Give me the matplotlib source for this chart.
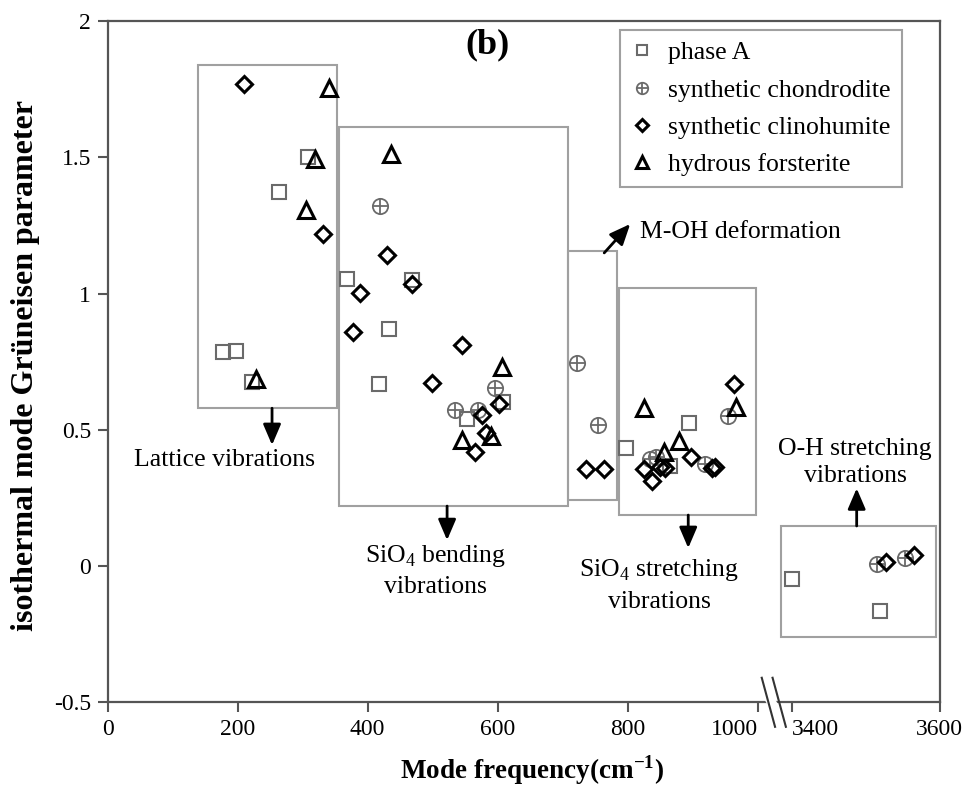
import numpy as np
import matplotlib
matplotlib.use("Agg")
import matplotlib.pyplot as plt
from matplotlib.patches import Rectangle, Polygon
from matplotlib.lines import Line2D

plt.rcParams['font.family'] = ['Liberation Serif', 'DejaVu Serif']
plt.rcParams['mathtext.fontset'] = 'custom'
plt.rcParams['mathtext.rm'] = 'Liberation Serif'
plt.rcParams['mathtext.bf'] = 'Liberation Serif:bold'
plt.rcParams['axes.unicode_minus'] = False

# ---- data (mode frequency, gamma) ----
phaseA_x = [177.8, 197.4, 222.5, 263.6, 308.7, 368.7, 467.9, 432.9, 417.1, 608.9,
            552.6, 797.8, 893.8, 865.6, 3400.1, 3518.9]
phaseA_y = [0.784, 0.789, 0.674, 1.374, 1.500, 1.052, 1.050, 0.869, 0.667, 0.603,
            0.538, 0.434, 0.524, 0.368, -0.049, -0.164]

chond_x = [419.6, 596.6, 535.0, 569.5, 722.0, 753.7, 833.7, 844.0, 919.5, 953.8,
           3515.1, 3553.4]
chond_y = [1.321, 0.654, 0.572, 0.572, 0.744, 0.517, 0.393, 0.400, 0.373, 0.550,
           0.007, 0.028]

clino_x = [209.7, 330.9, 429.9, 387.8, 467.9, 377.1, 544.9, 498.7, 602.8, 575.7,
           581.8, 565.4, 736.3, 764.4, 824.5, 849.1, 857.9, 837.4, 897.9, 929.8,
           934.9, 963.1, 3527.7, 3565.6]
clino_y = [1.768, 1.218, 1.141, 1.003, 1.035, 0.860, 0.811, 0.670, 0.595, 0.554,
           0.487, 0.420, 0.355, 0.355, 0.356, 0.364, 0.361, 0.313, 0.401, 0.358,
           0.362, 0.668, 0.016, 0.040]

forst_x = [340.6, 319.0, 305.2, 228.2, 435.6, 607.4, 589.5, 544.9, 824.5, 879.4,
           855.3, 967.2]
forst_y = [1.753, 1.492, 1.306, 0.685, 1.512, 0.729, 0.477, 0.462, 0.579, 0.459,
           0.420, 0.582]

x_ticks = [0, 200, 400, 600, 800, 1000, 3400, 3600]
x_tick_labels = ['0', '200', '400', '600', '800', '1000', '3400', '3600']
y_ticks = [-0.5, 0, 0.5, 1, 1.5, 2]
y_tick_labels = ['-0.5', '0', '0.5', '1', '1.5', '2']

# vibration regions (x0, x1, y0, y1)
regions = {
    'lattice': (139.3, 352.4, 0.579, 1.839),
    'bending': (356.4, 708.1, 0.220, 1.612),
    'mOH': (708.1, 783.5, 0.242, 1.156),
    'stretch': (786.0, 998.0, 0.187, 1.019),
    'OH': (3385.7, 3594.9, -0.259, 0.147),
}

# ---- broken x axis: 0..B1 then B2..3600 ----
B1, B2, K = 1025.0, 3376.0, 1.1386


def fwd(x):
    x = np.asarray(x, float)
    return np.where(x <= B1, x, B1 + np.clip(x - B2, 0, None) * K)


def inv(u):
    u = np.asarray(u, float)
    return np.where(u <= B1, u, B2 + (u - B1) / K)


fig = plt.figure(figsize=(9.7, 7.86), dpi=100)
ax = fig.add_axes([0.1111, 0.1065, 0.8575, 0.8668])
ax.set_xscale('function', functions=(fwd, inv))
ax.set_xlim(0, 3600)
ax.set_ylim(-0.5, 2)

# region boxes
for x0, x1, y0, y1 in regions.values():
    ax.add_patch(Rectangle((x0, y0), x1 - x0, y1 - y0, fill=False,
                           edgecolor='#a0a0a0', lw=1.5, zorder=1))

gray = '#6a6a6a'
ax.plot(phaseA_x, phaseA_y, 's', ms=10, mfc='none', mec=gray, mew=1.5, zorder=3)
ax.plot(chond_x, chond_y, 'o', ms=11, mfc='none', mec=gray, mew=1.3, zorder=3)
ax.plot(chond_x, chond_y, '+', ms=11, mec=gray, mew=1.3, zorder=3)
ax.plot(clino_x, clino_y, 'D', ms=8.5, mfc='none', mec='black', mew=2.2, zorder=4)
ax.plot(forst_x, forst_y, '^', ms=11, mfc='none', mec='black', mew=2.2, zorder=4)

# legend
h_sq = Line2D([], [], ls='none', marker='s', ms=10, mfc='none', mec=gray, mew=1.5)
h_ci = Line2D([], [], ls='none', marker='o', ms=11, mfc='none', mec=gray, mew=1.3)
h_pl = Line2D([], [], ls='none', marker='+', ms=11, mec=gray, mew=1.3)
h_di = Line2D([], [], ls='none', marker='D', ms=8.5, mfc='none', mec='black', mew=2.2)
h_tr = Line2D([], [], ls='none', marker='^', ms=11, mfc='none', mec='black', mew=2.2)
leg = ax.legend([h_sq, (h_ci, h_pl), h_di, h_tr],
                ['phase A', 'synthetic chondrodite', 'synthetic clinohumite',
                 'hydrous forsterite'],
                loc='upper left', bbox_to_anchor=(0.616, 0.987), borderaxespad=0,
                fontsize=18.5, markerscale=0.75, fancybox=False, framealpha=1,
                edgecolor='#a0a0a0', handlelength=0.8, handletextpad=0.6,
                labelspacing=0.55, borderpad=0.45)
leg.get_frame().set_linewidth(1.5)

# annotations
txt = dict(fontsize=18.5, ha='center', va='center')
arw = dict(arrowstyle='-|>,head_length=0.7,head_width=0.3', color='black', lw=2,
           shrinkA=0, shrinkB=0, mutation_scale=18)
ax.annotate('', xy=(252.8, 0.444), xytext=(252.8, regions['lattice'][2]), arrowprops=arw)
ax.text(180.4, 0.389, 'Lattice vibrations', **txt)
ax.annotate('', xy=(522.2, 0.095), xytext=(522.2, regions['bending'][2]), arrowprops=arw)
ax.text(505, -0.015, 'SiO$_\\mathrm{4}$ bending\nvibrations', linespacing=1.4, **txt)
ax.annotate('', xy=(804, 1.255), xytext=(764, 1.149), arrowprops=arw)
ax.text(819.4, 1.226, 'M-OH deformation', fontsize=18.5, ha='left', va='center')
ax.annotate('', xy=(893.3, 0.066), xytext=(893.3, regions['stretch'][2]), arrowprops=arw)
ax.text(848.7, -0.07, 'SiO$_\\mathrm{4}$ stretching\nvibrations', linespacing=1.45, **txt)
ax.annotate('', xy=(3488, 0.285), xytext=(3488, regions['OH'][3]), arrowprops=arw)
ax.text(3486, 0.38, 'O-H stretching\nvibrations', linespacing=1.3, **txt)

ax.text(584, 1.912, '(b)', fontsize=26, fontweight='bold', ha='center', va='center')

# axes styling
ax.set_xticks(x_ticks, labels=x_tick_labels)
ax.set_yticks(y_ticks, labels=y_tick_labels)
ax.minorticks_off()
ax.tick_params(direction='out', length=7, width=1.5, color='#555555',
               labelsize=17, pad=5)
xl = ax.get_xticklabels()
xl[5].set_ha('right')
xl[6].set_ha('left')
for s in ax.spines.values():
    s.set_color('#555555')
    s.set_linewidth(1.6)

ax.set_xlabel('Mode frequency(cm$^{\\mathbf{-1}}$)', fontsize=19.5, fontweight='bold')
ax.set_ylabel('isothermal mode Gr\u00fcneisen parameter', fontsize=23,
              fontweight='bold')
ax.xaxis.set_label_coords(0.51, -0.075)
ax.yaxis.set_label_coords(-0.082, 0.495)

# break marks on the x axis
xb = float(fwd(B1) / fwd(3600))
d, sl, hy = 0.0065, 0.008, 0.036
ax.add_patch(Polygon([(xb - d - sl, hy * 0.3), (xb + d - sl, hy * 0.3),
                      (xb + d + sl * 0.3, -hy * 0.3), (xb - d + sl * 0.3, -hy * 0.3)],
                     closed=True, facecolor='white', edgecolor='none',
                     transform=ax.transAxes, clip_on=False, zorder=5))
for off in (-d, d):
    ax.plot([xb + off - sl, xb + off + sl], [hy, -hy], color='#333333', lw=1.5,
            transform=ax.transAxes, clip_on=False, zorder=6)

fig.savefig('out.png', dpi=100)
